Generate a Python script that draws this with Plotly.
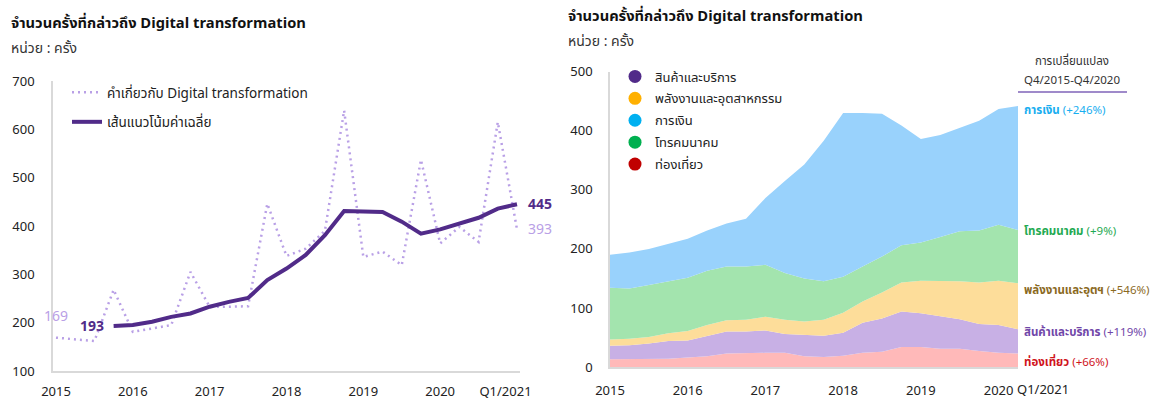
import plotly.graph_objects as go

W, H = 1163, 402
FONT = "Tahoma, 'Noto Sans Thai', 'Noto Sans', sans-serif"

# ---- left chart: quarterly mentions Q1/2015 - Q1/2021 ----
quarters = [f"Q{q}/{y}" for y in range(2015, 2021) for q in (1, 2, 3, 4)] + ["Q1/2021"]
mentions = [169, 165, 162, 268, 181, 188, 195, 305, 233, 233, 234, 446, 338,
            353, 390, 639, 336, 347, 319, 537, 364, 398, 367, 615, 393]
trend = [None, None, None, 193, 195, 202, 212, 219, 233, 243, 251, 288, 312,
         340, 381, 431, 431, 429, 409, 384, 393, 405, 417, 436, 445]
left_ticks = ["2015", "2016", "2017", "2018", "2019", "2020", "Q1/2021"]

# ---- right chart: 4-quarter average by sector, Q4/2015 - Q1/2021 ----
quarters_r = quarters[3:]
tourism = [13, 13, 14, 14, 16, 18, 23, 24, 24, 24, 18, 17, 19, 24, 26, 34, 34, 31, 31, 27, 24, 23]
goods = [23, 24, 26, 30, 29, 35, 37, 36, 38, 32, 36, 36, 39, 51, 56, 60, 57, 55, 50, 46, 47, 41]
energy = [10.5, 11, 11, 13, 16, 18, 19, 20, 23, 24, 23, 27, 34, 36, 44, 49, 55, 60, 64, 70, 75, 78]
telecom = [87.5, 85, 88, 88, 90, 92, 91, 90, 88, 79, 73, 65, 61, 59, 61, 63, 65, 74, 85, 88, 95, 90]
finance = [56, 61, 61, 63, 66, 68, 73, 81, 113, 156, 193, 238, 277, 260, 242, 203, 175, 173, 175, 186, 196, 210]
right_ticks = ["2015", "2016", "2017", "2018", "2019", "2020"]

sectors = [
    ("ท่องเที่ยว", tourism, "#ffb9b9", "#c00000", "#d0141c", "+66%"),
    ("สินค้าและบริการ", goods, "#c8b0e5", "#512b89", "#7046a8", "+119%"),
    ("พลังงานและอุตสาหกรรม", energy, "#fddd9a", "#ffb000", "#8b6a1f", "+546%"),
    ("โทรคมนาคม", telecom, "#a3e4ae", "#00b050", "#1faa52", "+9%"),
    ("การเงิน", finance, "#99d2fc", "#00b0f0", "#18aef0", "+246%"),
]
short_names = {"พลังงานและอุตสาหกรรม": "พลังงานและอุตฯ"}
legend_order = ["สินค้าและบริการ", "พลังงานและอุตสาหกรรม", "การเงิน", "โทรคมนาคม", "ท่องเที่ยว"]
label_y = {"การเงิน": 434, "โทรคมนาคม": 229, "พลังงานและอุตสาหกรรม": 130,
           "สินค้าและบริการ": 58, "ท่องเที่ยว": 7}

DARK = "#512b89"
LIGHT = "#b9a0e6"

fig = go.Figure()

xl = list(range(len(quarters)))
fig.add_trace(go.Scatter(
    x=xl, y=mentions, mode="lines", name="คำเกี่ยวกับ Digital transformation",
    line=dict(color=LIGHT, width=2.5, dash="2px,4px"),
    legend="legend", legendgroup="a", xaxis="x", yaxis="y",
))
fig.add_trace(go.Scatter(
    x=xl, y=trend, mode="lines", name="เส้นแนวโน้มค่าเฉลี่ย",
    line=dict(color=DARK, width=4),
    legend="legend", legendgroup="b", xaxis="x", yaxis="y",
))

xr = list(range(len(quarters_r)))
for name, vals, fill, mk, lab, pct in sectors:
    fig.add_trace(go.Scatter(
        x=xr, y=vals, mode="lines", stackgroup="one", name=name,
        line=dict(width=0, color=fill), fillcolor=fill,
        showlegend=False, xaxis="x2", yaxis="y2",
    ))

for nm in legend_order:
    mk = [s[3] for s in sectors if s[0] == nm][0]
    fig.add_trace(go.Scatter(
        x=[None], y=[None], mode="markers", name=nm,
        marker=dict(color=mk, size=13),
        legend="legend2", legendgroup=nm, xaxis="x2", yaxis="y2",
    ))

axis_common = dict(showline=True, linecolor="#d9d9d9", linewidth=1.5, showgrid=False,
                   zeroline=False, ticks="", automargin=False,
                   tickfont=dict(size=13, color="#222"))

fig.update_layout(
    template="none",
    width=W, height=H, margin=dict(l=0, r=0, t=0, b=0, autoexpand=False),
    paper_bgcolor="white", plot_bgcolor="white",
    font=dict(family=FONT, size=13, color="#222"),
    xaxis=dict(domain=[53 / W, 520 / W], range=[-0.156, 24.156], anchor="y",
               tickvals=[0, 4, 8, 12, 16, 20, 23.4], ticktext=left_ticks,
               ticklabelstandoff=8, **axis_common),
    yaxis=dict(domain=[(H - 371) / H, (H - 81) / H], range=[100, 700], dtick=100,
               anchor="x", ticklabelstandoff=14, **axis_common),
    xaxis2=dict(domain=[610 / W, 1018 / W], range=[0, 21], anchor="y2",
                tickvals=[0, 4, 8, 12, 16, 20], ticktext=right_ticks,
                ticklabelstandoff=11, **axis_common),
    yaxis2=dict(domain=[(H - 367) / H, (H - 71.7) / H], range=[0, 500], dtick=100,
                anchor="x2", ticklabelstandoff=13, **axis_common),
    legend=dict(x=67 / W, y=1 - 77 / H, xanchor="left", yanchor="top",
                bgcolor="rgba(0,0,0,0)", font=dict(size=13.5, color="#222"),
                tracegroupgap=9, traceorder="grouped"),
    legend2=dict(x=615 / W, y=1 - 61.5 / H, xanchor="left", yanchor="top",
                 bgcolor="rgba(0,0,0,0)", font=dict(size=13, color="#222"),
                 tracegroupgap=2, traceorder="grouped"),
    showlegend=True,
)

ann = []
# titles
for x0, yt, ys in ((9, 23, 48), (566, 17, 42)):
    ann.append(dict(x=x0 / W, y=1 - yt / H, xref="paper", yref="paper", xanchor="left",
                    yanchor="middle", showarrow=False,
                    text="<b>จำนวนครั้งที่กล่าวถึง Digital transformation</b>",
                    font=dict(size=14.7, color="#111")))
    ann.append(dict(x=x0 / W, y=1 - ys / H, xref="paper", yref="paper", xanchor="left",
                    yanchor="middle", showarrow=False, text="หน่วย : ครั้ง",
                    font=dict(size=14, color="#333")))

# left value labels
ann.append(dict(x=0, y=mentions[0], xref="x", yref="y", yshift=21, showarrow=False,
                xanchor="center", text=str(mentions[0]), font=dict(size=14, color=LIGHT)))
ann.append(dict(x=3, y=trend[3], xref="x", yref="y", xanchor="right", xshift=-8,
                showarrow=False, text=f"<b>{trend[3]}</b>", font=dict(size=14, color=DARK)))
ann.append(dict(x=24, y=trend[-1], xref="x", yref="y", xanchor="left", xshift=9,
                showarrow=False, text=f"<b>{trend[-1]}</b>", font=dict(size=14, color=DARK)))
ann.append(dict(x=24, y=mentions[-1], xref="x", yref="y", xanchor="left", xshift=9,
                showarrow=False, text=str(mentions[-1]), font=dict(size=14, color=LIGHT)))

# right extra tick, header, end labels
ann.append(dict(x=1043 / W, y=1 - 390 / H, xref="paper", yref="paper", showarrow=False,
                xanchor="center", yanchor="middle", text="Q1/2021",
                font=dict(size=13, color="#222")))
ann.append(dict(x=1072 / W, y=1 - 62 / H, xref="paper", yref="paper", showarrow=False,
                xanchor="center", yanchor="middle", text="การเปลี่ยนแปลง",
                font=dict(size=11.5, color="#333")))
ann.append(dict(x=1072 / W, y=1 - 80 / H, xref="paper", yref="paper", showarrow=False,
                xanchor="center", yanchor="middle", text="Q4/2015-Q4/2020",
                font=dict(size=11.5, color="#333")))
for name, vals, fill, mk, lab, pct in sectors:
    ann.append(dict(x=21, y=label_y[name], xref="x2", yref="y2", xanchor="left", xshift=4,
                    showarrow=False,
                    text=f"<b>{short_names.get(name, name)}</b> ({pct})",
                    font=dict(size=11.5, color=lab)))

fig.update_layout(annotations=ann)
fig.add_shape(type="line", xref="paper", yref="paper", x0=1018 / W, x1=1127 / W,
              y0=1 - 92 / H, y1=1 - 92 / H, line=dict(color="#7f63b8", width=1.5))

fig.write_html("out.html", config={"displayModeBar": False},
               post_script="document.body.style.margin='0';")
